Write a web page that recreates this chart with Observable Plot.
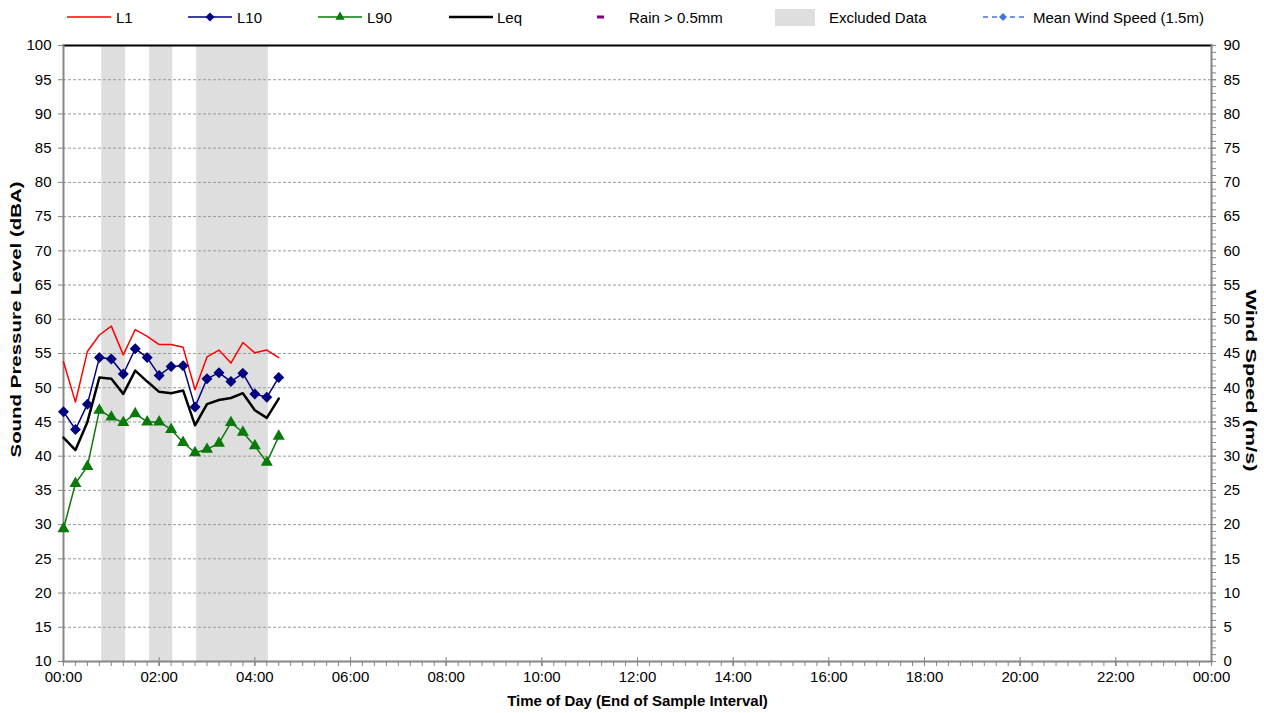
<!DOCTYPE html>
<html>
<head>
<meta charset="utf-8">
<script src="https://cdn.jsdelivr.net/npm/d3@7"></script>
<script src="https://cdn.jsdelivr.net/npm/@observablehq/plot@0.6"></script>
<style>
  html, body { margin: 0; padding: 0; background: #fff; }
  body { width: 1264px; height: 713px; overflow: hidden; font-family: "Liberation Sans", Arial, sans-serif; }
  #legend { display: block; }
</style>
</head>
<body>
<svg id="legend" width="1264" height="34"></svg>
<div id="chart"></div>
<script>
// ---- Data (minutes after midnight, end of 15-min sample interval) ----
const times = [0, 15, 30, 45, 60, 75, 90, 105, 120, 135, 150, 165, 180, 195, 210, 225, 240, 255, 270];
const L1  = [53.8, 47.9, 55.3, 57.7, 59.0, 54.8, 58.5, 57.5, 56.3, 56.3, 55.9, 49.7, 54.5, 55.5, 53.6, 56.6, 55.1, 55.5, 54.4];
const L10 = [46.5, 43.9, 47.6, 54.4, 54.2, 52.0, 55.7, 54.4, 51.8, 53.1, 53.2, 47.2, 51.3, 52.2, 50.9, 52.1, 49.1, 48.6, 51.5];
const L90 = [29.4, 36.0, 38.5, 46.7, 45.7, 44.9, 46.2, 45.0, 45.0, 43.9, 42.0, 40.5, 41.0, 41.9, 44.9, 43.5, 41.5, 39.1, 42.9];
const Leq = [42.7, 40.9, 45.0, 51.5, 51.3, 49.1, 52.5, 50.9, 49.4, 49.2, 49.6, 44.5, 47.6, 48.2, 48.5, 49.2, 46.7, 45.6, 48.4];

// Excluded data periods (minutes)
const excludedStart = [48, 108, 167];
const excludedEnd   = [78, 137, 257];

// Axis ticks
const splTicks  = [10, 15, 20, 25, 30, 35, 40, 45, 50, 55, 60, 65, 70, 75, 80, 85, 90, 95, 100];
const gridTicks = [15, 20, 25, 30, 35, 40, 45, 50, 55, 60, 65, 70, 75, 80, 85, 90, 95];
const windTicks = [0, 5, 10, 15, 20, 25, 30, 35, 40, 45, 50, 55, 60, 65, 70, 75, 80, 85, 90];
const windMinor = d3.range(0, 91, 1);
const timeMajor = [0, 120, 240, 360, 480, 600, 720, 840, 960, 1080, 1200, 1320, 1440];
const timeMinor = d3.range(0, 1441, 15);

// Legend entries
const legendLabels = ["L1", "L10", "L90", "Leq", "Rain > 0.5mm", "Excluded Data", "Mean Wind Speed (1.5m)"];
const yTitle = "Sound Pressure Level (dBA)";
const y2Title = "Wind Speed (m/s)";
const xTitle = "Time of Day (End of Sample Interval)";

// ---- Build tables ----
const data = times.map((t, i) => ({t, L1: L1[i], L10: L10[i], L90: L90[i], Leq: Leq[i]}));
const excluded = excludedStart.map((s, i) => ({start: s, end: excludedEnd[i]}));
const windOffset = 10; // wind 0..90 m/s maps onto 10..100 dBA
const fmtTime = m => String(Math.floor(m / 60) % 24).padStart(2, "0") + ":" + String(m % 60).padStart(2, "0");

const axisGrey = "#868686";
const red = "#ff0000", navy = "#000080", green = "#0a7a0a", purple = "#7f007f", windBlue = "#4472e4";

const chart = Plot.plot({
  width: 1264,
  height: 679,
  marginTop: 11,
  marginBottom: 52,
  marginLeft: 63,
  marginRight: 53,
  style: {fontFamily: "'Liberation Sans', Arial, sans-serif", fontSize: "15px", color: "#000", background: "#fff"},
  x: {type: "linear", domain: [0, 1440]},
  y: {domain: [10, 100]},
  marks: [
    Plot.rect(excluded, {x1: "start", x2: "end", fill: "#dedede"}),
    Plot.gridY({ticks: gridTicks, stroke: "#9a9a9a", strokeOpacity: 1, strokeDasharray: "3,2", strokeWidth: 1}),
    Plot.frame({anchor: "top", stroke: "#000", strokeWidth: 2}),
    Plot.frame({anchor: "left", stroke: axisGrey, strokeWidth: 2}),
    Plot.frame({anchor: "right", stroke: axisGrey, strokeWidth: 2}),
    Plot.frame({anchor: "bottom", stroke: axisGrey, strokeWidth: 2}),
    // left axis
    Plot.axisY({anchor: "left", ticks: splTicks, tickSize: 5, tickPadding: 7, stroke: axisGrey, label: null}),
    // right axis (wind speed)
    Plot.axisY({anchor: "right", ticks: windMinor.map(w => w + windOffset), tickSize: 4, tickFormat: () => "", stroke: axisGrey, label: null}),
    Plot.axisY({anchor: "right", ticks: windTicks.map(w => w + windOffset), tickSize: 4, tickPadding: 8, tickFormat: d => d - windOffset, stroke: axisGrey, label: null}),
    // x axis
    Plot.axisX({ticks: timeMinor, tickSize: 5, tickFormat: () => "", stroke: axisGrey, label: null}),
    Plot.axisX({ticks: timeMajor, tickSize: 9, dy: -4, tickFormat: () => "", stroke: axisGrey, label: null}),
    Plot.axisX({ticks: timeMajor, tickSize: 5, tickPadding: 5, tickFormat: fmtTime, stroke: axisGrey, label: null}),
    // series
    Plot.line(data, {x: "t", y: "L1", stroke: red, strokeWidth: 1.5}),
    Plot.line(data, {x: "t", y: "L10", stroke: navy, strokeWidth: 1.5}),
    Plot.dot(data, {x: "t", y: "L10", symbol: "diamond2", r: 4, fill: navy, stroke: navy}),
    Plot.line(data, {x: "t", y: "L90", stroke: green, strokeWidth: 1.5}),
    Plot.dot(data, {x: "t", y: "L90", symbol: "triangle", r: 3.5, fill: green, stroke: green}),
    Plot.line(data, {x: "t", y: "Leq", stroke: "#000", strokeWidth: 2.5}),
    // axis titles
    Plot.text([yTitle], {frameAnchor: "left", textAnchor: "middle", rotate: -90, dx: -47, dy: -34, fontWeight: "bold", fontSize: 15, className: "ytitle"}),
    Plot.text([y2Title], {frameAnchor: "right", textAnchor: "middle", rotate: 90, dx: 39, dy: 27, fontWeight: "bold", fontSize: 15, className: "y2title"}),
    Plot.text([xTitle], {frameAnchor: "bottom", textAnchor: "middle", dy: 44, fontWeight: "bold", fontSize: 15})
  ]
});
document.getElementById("chart").appendChild(chart);

// stretch the rotated titles along their length as in the reference
d3.select(chart).selectAll("text").each(function() {
  const t = this.textContent;
  if (t === yTitle) d3.select(this).attr("textLength", 276).attr("lengthAdjust", "spacingAndGlyphs");
  if (t === y2Title) d3.select(this).attr("textLength", 182).attr("lengthAdjust", "spacingAndGlyphs");
});

// ---- Legend ----
const lg = d3.select("#legend").style("font-family", "'Liberation Sans', Arial, sans-serif").style("font-size", "15px");
const cy = 17;
const items = [
  {label: legendLabels[0], x: 67, type: "line", color: red, w: 1.5},
  {label: legendLabels[1], x: 188, type: "line", color: navy, w: 1.5, marker: "diamond"},
  {label: legendLabels[2], x: 318, type: "line", color: green, w: 1.5, marker: "triangle"},
  {label: legendLabels[3], x: 449, type: "line", color: "#000", w: 2.5},
  {label: legendLabels[4], x: 597, type: "rain", color: purple},
  {label: legendLabels[5], x: 775, type: "box", color: "#dedede"},
  {label: legendLabels[6], x: 983, type: "wind", color: windBlue}
];
const textX = [116, 237, 367, 497, 629, 829, 1033];
items.forEach((it, i) => {
  const g = lg.append("g");
  if (it.type === "line") {
    g.append("line").attr("x1", it.x).attr("x2", it.x + 44).attr("y1", cy).attr("y2", cy).attr("stroke", it.color).attr("stroke-width", it.w);
    if (it.marker === "diamond") g.append("path").attr("d", d3.symbol(d3.symbolDiamond2, 52)()).attr("transform", `translate(${it.x + 22},${cy})`).attr("fill", it.color);
    if (it.marker === "triangle") g.append("path").attr("d", d3.symbol(d3.symbolTriangle, 38)()).attr("transform", `translate(${it.x + 22},${cy})`).attr("fill", it.color);
  } else if (it.type === "rain") {
    g.append("line").attr("x1", it.x).attr("x2", it.x + 7).attr("y1", cy).attr("y2", cy).attr("stroke", it.color).attr("stroke-width", 3);
  } else if (it.type === "box") {
    g.append("rect").attr("x", it.x).attr("y", 9).attr("width", 40).attr("height", 17).attr("fill", it.color);
  } else if (it.type === "wind") {
    g.append("line").attr("x1", it.x).attr("x2", it.x + 41).attr("y1", cy).attr("y2", cy).attr("stroke", it.color).attr("stroke-width", 1.5).attr("stroke-dasharray", "5,4");
    g.append("path").attr("d", d3.symbol(d3.symbolDiamond2, 40)()).attr("transform", `translate(${it.x + 20},${cy})`).attr("fill", it.color);
  }
  g.append("text").attr("x", textX[i]).attr("y", cy + 5.5).attr("fill", "#000").text(it.label);
});
</script>
</body>
</html>
